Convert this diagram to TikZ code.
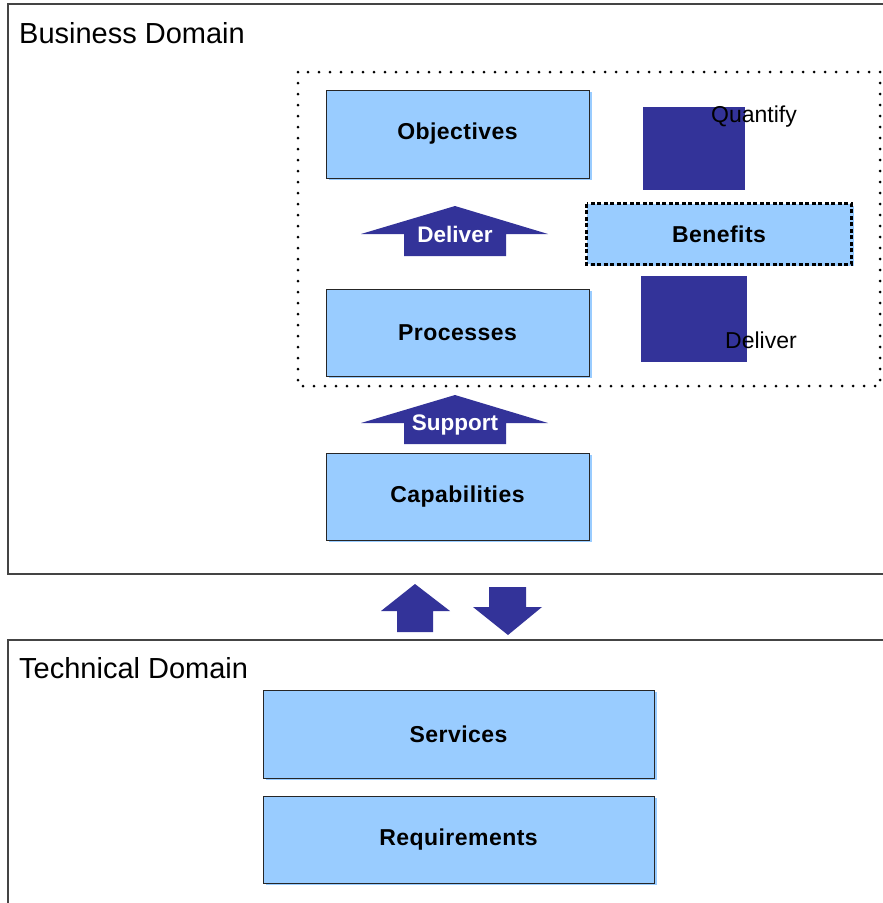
\documentclass[tikz,border=0pt]{standalone}
\usepackage{fontspec}
\setmainfont{Liberation Sans}
\newfontfamily\boxfont[LetterSpace=2]{Liberation Sans}
\definecolor{boxblue}{HTML}{99CCFF}
\definecolor{navy}{HTML}{333399}
\definecolor{framegray}{HTML}{444444}
\tikzset{
  domainframe/.style={draw=framegray, line width=1.1pt},
  domainlabel/.style={anchor=west, font=\fontsize{29}{32}\selectfont, inner sep=0pt},
  bluebox/.style={draw=black!85, line width=0.9pt, fill=boxblue,
    preaction={fill=boxblue, transform canvas={xshift=2.5pt, yshift=-2pt}},
    font=\boxfont\bfseries\fontsize{23}{26}\selectfont, inner sep=0pt},
  navyshape/.style={fill=navy, draw=none},
  arrowlabel/.style={text=white, font=\bfseries\fontsize{22.5}{26}\selectfont, inner sep=0pt},
  plainlabel/.style={font=\fontsize{23}{26}\selectfont, inner sep=0pt},
  dotframe/.style={draw=black, line width=3pt, line cap=round, dash pattern=on 0pt off 11pt},
}
\begin{document}
\begin{tikzpicture}[x=1pt, y=-1pt]
\clip (0,0) rectangle (883,903);
\fill[white] (0,0) rectangle (883,903);

% domain frames
\draw[domainframe] (8,4) rectangle (900,574);
\node[domainlabel] (bdom) at (19,33) {Business Domain};
\draw[domainframe] (8,640) rectangle (900,920);
\node[domainlabel] (tdom) at (19,668) {Technical Domain};

% dotted group
\draw[dotframe] (298,72) rectangle (880,386);

% business boxes
\node[bluebox, minimum width=263pt, minimum height=88pt] (obj) at (457.5,134) {Objectives};
\node[bluebox, minimum width=263pt, minimum height=87pt] (proc) at (457.5,332.5) {Processes};
\node[bluebox, minimum width=263pt, minimum height=87pt] (cap) at (457.5,496.5) {Capabilities};

% benefits with dashed border
\node[bluebox, draw=none, minimum width=264pt, minimum height=60pt] (ben) at (719,234) {Benefits};
\draw[black, line width=2.2pt, dash pattern=on 4pt off 2.5pt] (ben.north west) rectangle (ben.south east);

% navy squares with their labels
\fill[navyshape] (643,107) rectangle (745,190);
\node[plainlabel] (quant) at (754,117) {Quantify};
\fill[navyshape] (641,276) rectangle (747,362);
\node[plainlabel] (deliv2) at (761,340) {Deliver};

% labelled up arrows
\fill[navyshape] (455,206) -- (548,234) -- (506,234) -- (506,256) -- (404,256) -- (404,234) -- (361,234) -- cycle;
\node[arrowlabel] (deliv1) at (455,234) {Deliver};
\fill[navyshape] (455,395) -- (548,423) -- (506,423) -- (506,444) -- (404,444) -- (404,423) -- (361,423) -- cycle;
\node[arrowlabel] (supp) at (455,424.5) {Support};

% up / down arrows between domains
\fill[navyshape] (415,584) -- (450,611) -- (433,611) -- (433,632) -- (397,632) -- (397,611) -- (381,611) -- cycle;
\fill[navyshape] (489,587) -- (526,587) -- (526,607) -- (542,607) -- (508,635) -- (473,607) -- (489,607) -- cycle;

% technical boxes
\node[bluebox, minimum width=391pt, minimum height=88pt] (serv) at (458.5,734) {Services};
\node[bluebox, minimum width=391pt, minimum height=87pt] (req) at (458.5,839.5) {Requirements};
\end{tikzpicture}
\end{document}
